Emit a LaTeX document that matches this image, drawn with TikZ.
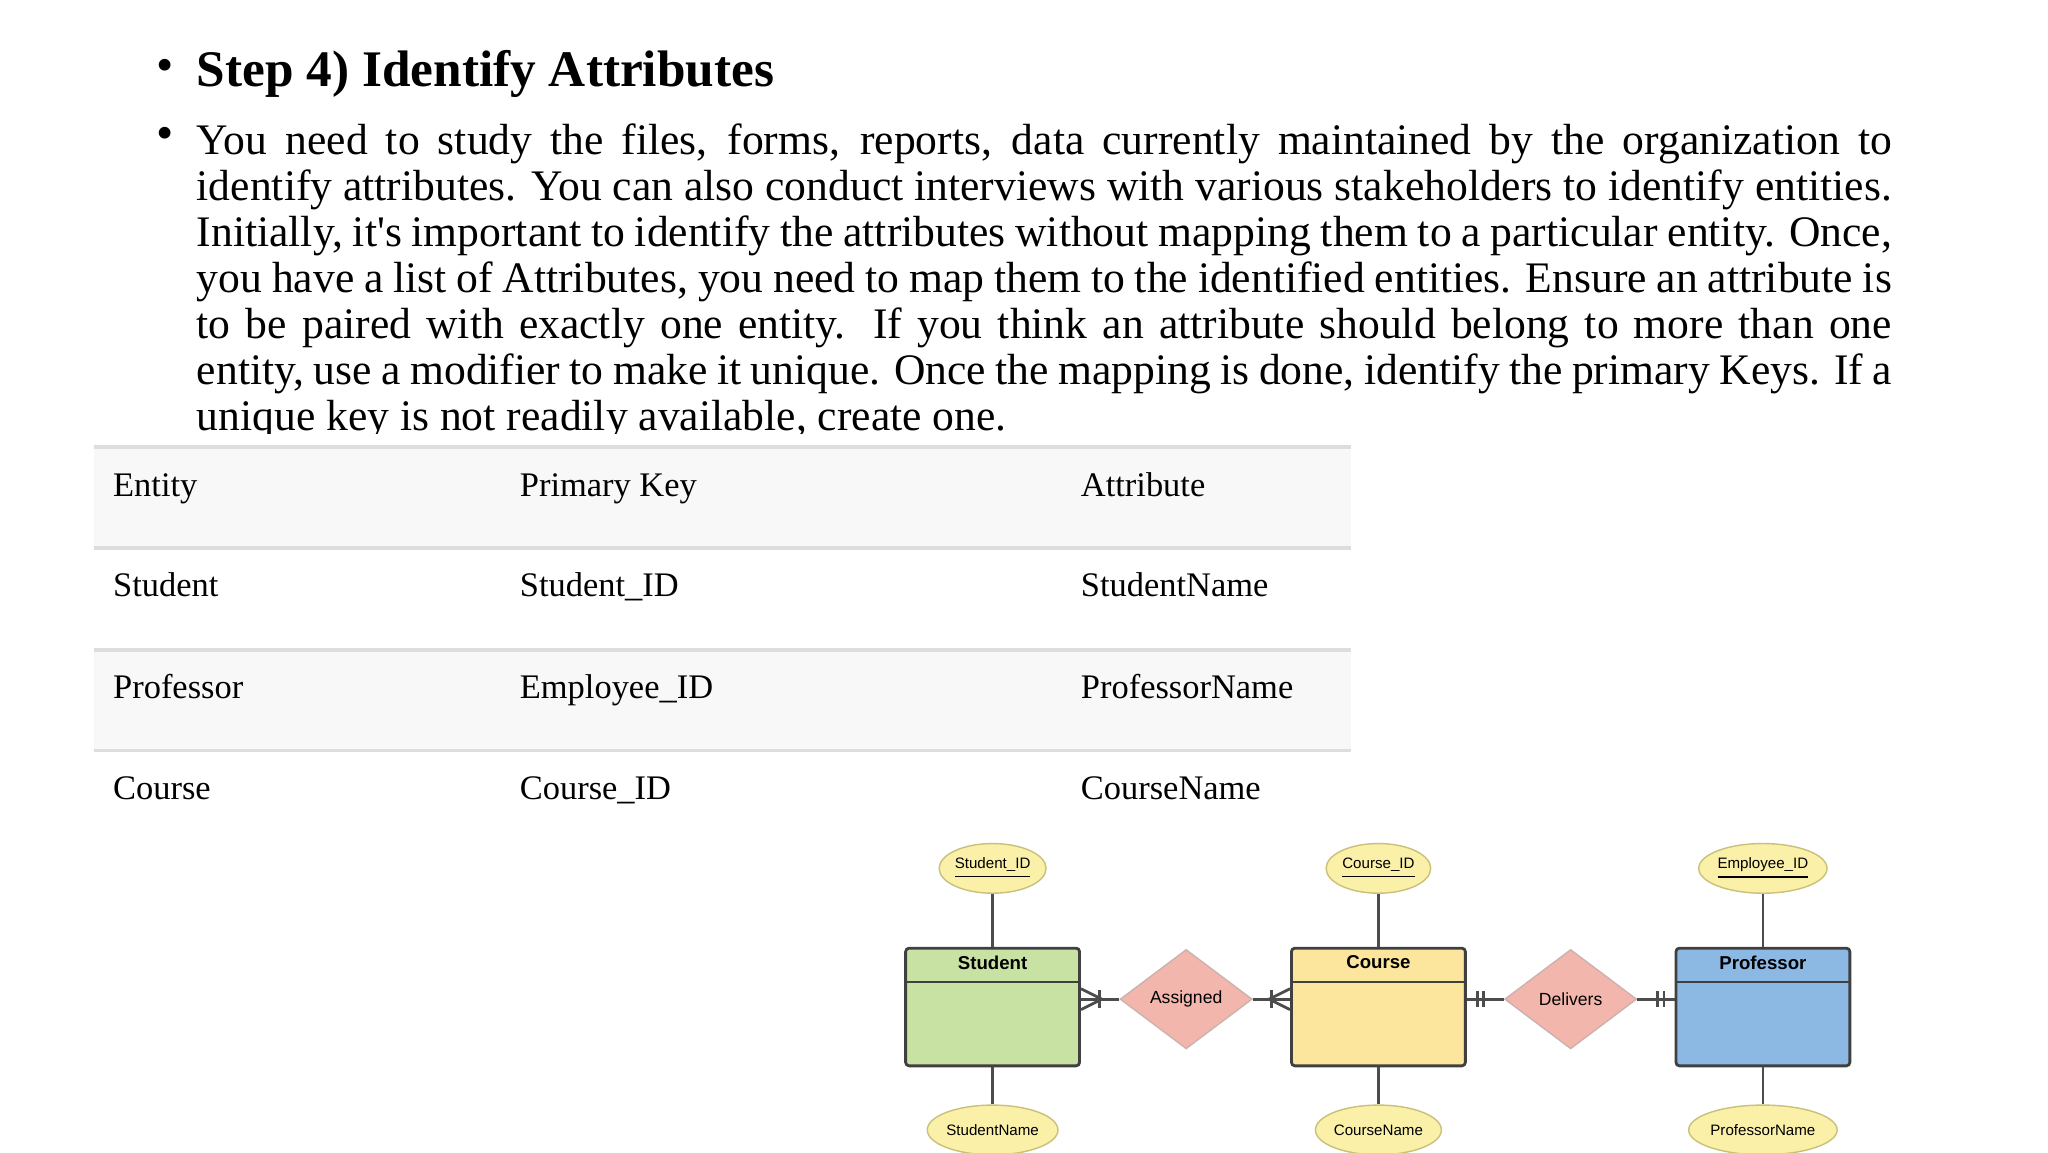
\documentclass[tikz,border=0pt]{standalone}
\usepackage{fontspec}
\setmainfont{Liberation Serif}
\setsansfont{Liberation Sans}
\usetikzlibrary{positioning,shapes,calc}
\definecolor{entgreen}{HTML}{C8E2A4}
\definecolor{entyellow}{HTML}{FCE59C}
\definecolor{entblue}{HTML}{8CB8E4}
\definecolor{relpink}{HTML}{F2B6AC}
\definecolor{attrfill}{HTML}{FAF0A8}
\definecolor{attrline}{HTML}{C9C07A}
\definecolor{rowgray}{HTML}{F8F8F8}
\definecolor{rulegray}{HTML}{DDDDDD}
\begin{document}
\begin{tikzpicture}[x=0.013078cm,y=-0.013078cm,
    entity/.style={draw=black!75,thick,rectangle,rounded corners=1pt,minimum width=133*0.013078cm,minimum height=90*0.013078cm},
    rel/.style={draw=relpink!70!black!60,diamond,fill=relpink,minimum width=101*0.013078cm,minimum height=76*0.013078cm,inner sep=0pt,font=\sffamily\fontsize{5}{6}\selectfont},
    attr/.style={draw=attrline,ellipse,fill=attrfill,minimum width=80*0.013078cm,minimum height=38*0.013078cm,inner sep=0pt,font=\sffamily\fontsize{4.3}{5}\selectfont},
    cell/.style={anchor=base west,inner sep=0pt,font=\fontsize{9.8}{12}\selectfont},
    link/.style={draw=black!70,thick}
  ]
    \useasboundingbox (0,0) rectangle (1566,881);
    % Title and text
    \node[anchor=base west,inner sep=0pt,font=\fontsize{14.6}{16}\selectfont\bfseries] (title) at (150,66) {Step 4) Identify Attributes};
    \node[anchor=base,font=\fontsize{14}{14}\selectfont] at (126,62) {\textbullet};
    \node[anchor=base,font=\fontsize{14}{14}\selectfont] at (126,114) {\textbullet};
    \node[anchor=north west,inner sep=0pt,text width=1296*0.013078cm,align=justify,font=\fontsize{12.4}{13.1}\selectfont] (body) at (150,94)
      {\hyphenpenalty=10000\relax
       You need to study the files, forms, reports, data currently maintained by the organization to\linebreak
       identify attributes. You can also conduct interviews with various stakeholders to identify entities.\linebreak
       Initially, it\textquotesingle s important to identify the attributes without mapping them to a particular entity. Once,\linebreak
       you have a list of Attributes, you need to map them to the identified entities. Ensure an attribute is\linebreak
       to be paired with exactly one entity. If you think an attribute should belong to more than one\linebreak
       entity, use a modifier to make it unique. Once the mapping is done, identify the primary Keys. If a\linebreak
       unique key is not readily available, create one.};

    % Table
    \fill[white] (72,332) rectangle (1033,342);
    \fill[rowgray] (72,342) rectangle (1033,419);
    \fill[rowgray] (72,497) rectangle (1033,574);
    \draw[rulegray,line width=1.2pt] (72,342) -- (1033,342);
    \draw[rulegray,line width=1pt] (72,419) -- (1033,419);
    \draw[rulegray,line width=1pt] (72,497) -- (1033,497);
    \draw[rulegray,line width=1pt] (72,574) -- (1033,574);
    \foreach \y/\a/\b/\c in {380/Entity/Primary Key/Attribute,
                             456/Student/Student\_ID/StudentName,
                             534/Professor/Employee\_ID/ProfessorName,
                             611/Course/Course\_ID/CourseName}{
      \node[cell] at (86,\y) {\a};
      \node[cell] at (397,\y) {\b};
      \node[cell] at (826,\y) {\c};
    }

    % Entities
    \node[entity,fill=entgreen] (stu) at (759,770) {};
    \node[entity,fill=entyellow] (crs) at (1054,770) {};
    \node[entity,fill=entblue] (prf) at (1348,770) {};
    \foreach \e/\t in {stu/Student,crs/Course,prf/Professor}{
      \draw[black!75,thick] ($(\e.north west)+(0,27)$) -- ($(\e.north east)+(0,27)$);
      \node[font=\sffamily\bfseries\fontsize{5.3}{6}\selectfont] at ($(\e.north)+(0,12)$) {\t};
    }

    % Relationships
    \node[rel] (asg) at (907,764) {Assigned};
    \node[rel] (dlv) at (1201,764) {Delivers};

    % Attributes
    \node[attr] (sid) at (759,664) {\underline{Student\_ID}};
    \node[attr] (cid) at (1054,664) {\underline{Course\_ID}};
    \node[attr] (eid) at (1348,664) {\underline{Employee\_ID}};
    \node[attr] (snm) at (759,864) {StudentName};
    \node[attr] (cnm) at (1054,864) {CourseName};
    \node[attr] (pnm) at (1348,864) {ProfessorName};
    \foreach \a/\e in {sid/stu,cid/crs,eid/prf}
      \draw[link] (\a) -- (\e.north -| \a);
    \foreach \a/\e in {snm/stu,cnm/crs,pnm/prf}
      \draw[link] (\a) -- (\e.south -| \a);

    % Connectors with cardinality marks
    \draw[link] (asg.west) -- (asg.west -| stu.east) coordinate (s1);
    \draw[link] ($(s1)+(16,0)$) -- ($(s1)+(0,-8)$) ($(s1)+(16,0)$) -- ($(s1)+(0,8)$);
    \draw[link] ($(s1)+(14,-7)$) -- ($(s1)+(14,7)$);
    \draw[link] (asg.east) -- (asg.east -| crs.west) coordinate (c1);
    \draw[link] ($(c1)+(-16,0)$) -- ($(c1)+(0,-8)$) ($(c1)+(-16,0)$) -- ($(c1)+(0,8)$);
    \draw[link] ($(c1)+(-14,-7)$) -- ($(c1)+(-14,7)$);
    \draw[link] (dlv.west) -- (dlv.west -| crs.east) coordinate (c2);
    \draw[link] ($(c2)+(8,-6)$) -- ($(c2)+(8,6)$) ($(c2)+(13,-6)$) -- ($(c2)+(13,6)$);
    \draw[link] (dlv.east) -- (dlv.east -| prf.west) coordinate (p1);
    \draw[link] ($(p1)+(-8,-6)$) -- ($(p1)+(-8,6)$) ($(p1)+(-13,-6)$) -- ($(p1)+(-13,6)$);
\end{tikzpicture}
\end{document}
